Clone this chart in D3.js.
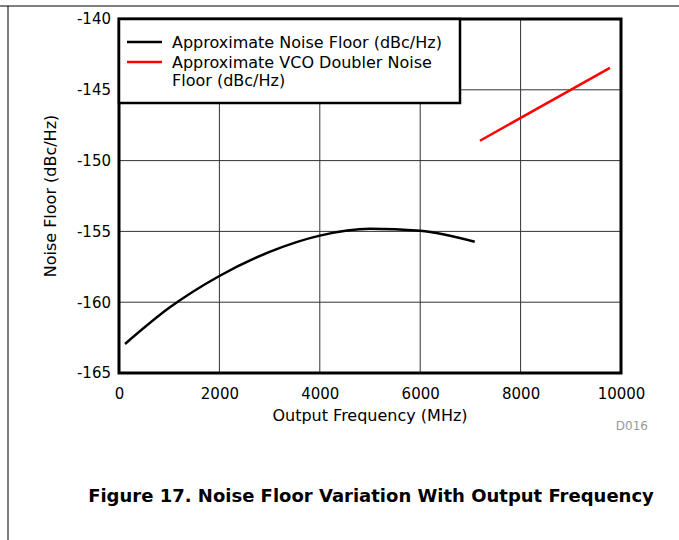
<!DOCTYPE html>
<html>
  <head>
    <meta charset='UTF-8'/>
    <script src="https://cdn.jsdelivr.net/npm/d3@7"></script>
    <style>
      body { margin:0; background:white; }
      text { font-family: "DejaVu Sans", "Liberation Sans", Arial, sans-serif; }
      .tick text { font-size:15px; fill:black; }
    </style>
  </head>
  <body>
    <svg id='fig' width='679' height='540'></svg>
    <script>
      // data
      const freqNoise = [120, 1000, 2000, 3000, 4000, 5000, 6000, 7086]
      const noiseFloor = [-162.95, -160.4, -158.15, -156.45, -155.3, -154.82, -154.95, -155.73]
      const freqDoubler = [7190, 9780]
      const doublerFloor = [-148.6, -143.45]
      const xTicks = [0, 2000, 4000, 6000, 8000, 10000]
      const yTicks = [-140, -145, -150, -155, -160, -165]
      const legendLabels = [["Approximate Noise Floor (dBc/Hz)"], ["Approximate VCO Doubler Noise", "Floor (dBc/Hz)"]]
      const colors = ["black", "red"]

      const svg = d3.select("#fig")
      const L = 119, R = 621, T = 19, B = 373

      // page frame
      svg.append("line").attr("x1", 0).attr("x2", 679).attr("y1", 6).attr("y2", 6)
	  .attr("stroke", "black").attr("stroke-width", 1)
      svg.append("line").attr("x1", 8).attr("x2", 8).attr("y1", 6).attr("y2", 540)
	  .attr("stroke", "black").attr("stroke-width", 1)

      const x = d3.scaleLinear().domain([0, 10000]).range([L, R])
      const y = d3.scaleLinear().domain([-165, -140]).range([B, T])

      // grid
      svg.append("g").selectAll("line").data(xTicks.slice(1, -1)).join("line")
	  .attr("x1", d => x(d)).attr("x2", d => x(d)).attr("y1", T).attr("y2", B)
	  .attr("stroke", "#333").attr("stroke-width", 1)
      svg.append("g").selectAll("line").data(yTicks.slice(1, -1)).join("line")
	  .attr("y1", d => y(d)).attr("y2", d => y(d)).attr("x1", L).attr("x2", R)
	  .attr("stroke", "#333").attr("stroke-width", 1)

      // axes (labels only)
      const xa = svg.append("g").attr("transform", `translate(0,${B})`)
	  .call(d3.axisBottom(x).tickValues(xTicks).tickSize(0).tickPadding(15).tickFormat(d3.format("d")))
      xa.select(".domain").remove()
      const ya = svg.append("g").attr("transform", `translate(${L},0)`)
	  .call(d3.axisLeft(y).tickValues(yTicks).tickSize(0).tickPadding(8).tickFormat(d => d))
      ya.select(".domain").remove()
      ya.selectAll(".tick text").attr("dy", "0.32em")

      // curves
      const line = d3.line().curve(d3.curveMonotoneX)
      svg.append("path")
	  .attr("d", line(freqNoise.map((f, i) => [x(f), y(noiseFloor[i])])))
	  .attr("fill", "none").attr("stroke", colors[0]).attr("stroke-width", 2.5)
      svg.append("path")
	  .attr("d", d3.line()(freqDoubler.map((f, i) => [x(f), y(doublerFloor[i])])))
	  .attr("fill", "none").attr("stroke", colors[1]).attr("stroke-width", 2.5)

      // plot frame
      svg.append("rect").attr("x", L).attr("y", T).attr("width", R - L).attr("height", B - T)
	  .attr("fill", "none").attr("stroke", "black").attr("stroke-width", 3)

      // legend
      const lg = svg.append("g")
      lg.append("rect").attr("x", L).attr("y", T).attr("width", 341).attr("height", 84)
	  .attr("fill", "white").attr("stroke", "black").attr("stroke-width", 2.5)
      const rows = [42, 62]
      legendLabels.forEach((lab, i) => {
	  lg.append("line").attr("x1", 127).attr("x2", 162).attr("y1", rows[i]).attr("y2", rows[i])
	      .attr("stroke", colors[i]).attr("stroke-width", 2.5)
	  lab.forEach((s, k) => {
	      lg.append("text").attr("x", 172).attr("y", rows[i] + 6 + k * 18)
		  .attr("font-size", 16).text(s)
	  })
      })

      // titles
      svg.append("text").attr("x", 370).attr("y", 421).attr("text-anchor", "middle")
	  .attr("font-size", 16).text("Output Frequency (MHz)")
      svg.append("text").attr("transform", `translate(56,${(T + B) / 2}) rotate(-90)`)
	  .attr("text-anchor", "middle").attr("font-size", 16).text("Noise Floor (dBc/Hz)")
      svg.append("text").attr("x", 648).attr("y", 430).attr("text-anchor", "end")
	  .attr("font-size", 12).attr("fill", "#999").text("D016")
      svg.append("text").attr("x", 371).attr("y", 502).attr("text-anchor", "middle")
	  .attr("font-size", 18).attr("font-weight", "bold").text("Figure 17. Noise Floor Variation With Output Frequency")
    </script>
  </body>
</html>
